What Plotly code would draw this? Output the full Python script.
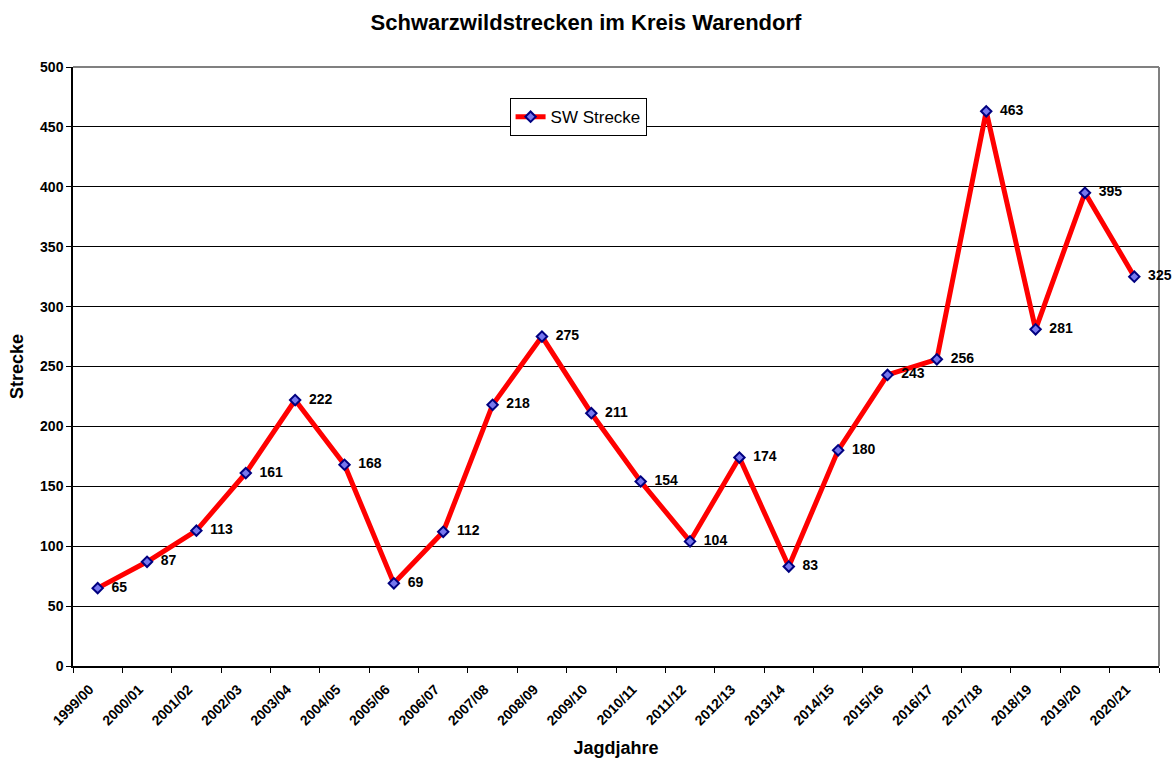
import plotly.graph_objects as go

seasons = ["1999/00", "2000/01", "2001/02", "2002/03", "2003/04", "2004/05", "2005/06",
           "2006/07", "2007/08", "2008/09", "2009/10", "2010/11", "2011/12", "2012/13",
           "2013/14", "2014/15", "2015/16", "2016/17", "2017/18", "2018/19", "2019/20", "2020/21"]
strecke = [65, 87, 113, 161, 222, 168, 69, 112, 218, 275, 211, 154, 104, 174,
           83, 180, 243, 256, 463, 281, 395, 325]

FONT = "Arial, 'Liberation Sans', sans-serif"

fig = go.Figure()
fig.add_trace(go.Scatter(
    x=seasons, y=strecke, name="SW Strecke",
    mode="lines+markers+text",
    line=dict(color="#FF0000", width=5),
    marker=dict(symbol="diamond", size=8, color="#7777EE",
                line=dict(color="#000080", width=2)),
    text=["  " + str(v) for v in strecke],
    textposition="middle right",
    textfont=dict(family=FONT, size=14, color="black", weight="bold"),
    cliponaxis=False,
))

fig.update_layout(
    width=1172, height=760,
    margin=dict(l=73, r=13, t=67, b=94, autoexpand=False),
    paper_bgcolor="white", plot_bgcolor="white",
    font=dict(family=FONT, color="black"),
    title=dict(text="Schwarzwildstrecken im Kreis Warendorf", x=0.5, xanchor="center",
               y=0.971, yanchor="middle",
               font=dict(family=FONT, size=22, color="black", weight="bold")),
    showlegend=True,
    legend=dict(x=0.402, y=0.948, xanchor="left", yanchor="top",
                bgcolor="white", bordercolor="black", borderwidth=1,
                font=dict(family=FONT, size=17, color="black"),
                tracegroupgap=0),
    xaxis=dict(
        type="category", range=[-0.5, 21.5], tickson="boundaries",
        ticks="outside", ticklen=5,
        tickcolor="black", tickwidth=1, tickangle=-45,
        ticklabelstandoff=8, ticklabelshift=-8,
        tickfont=dict(family=FONT, size=14, color="black", weight="bold"),
        showline=True, linecolor="black", linewidth=1.5, mirror=False,
        showgrid=False, zeroline=False, automargin=False,
        title=dict(text="Jagdjahre", standoff=14,
                   font=dict(family=FONT, size=18, color="black", weight="bold")),
    ),
    yaxis=dict(
        range=[0, 500], dtick=50, ticks="outside", ticklen=5,
        tickcolor="black", tickwidth=1,
        tickfont=dict(family=FONT, size=14, color="black", weight="bold"),
        showline=True, linecolor="black", linewidth=1.5,
        showgrid=True, gridcolor="black", gridwidth=1, zeroline=False,
        automargin=False,
        title=dict(text="Strecke", standoff=12,
                   font=dict(family=FONT, size=18, color="black", weight="bold")),
    ),
)

# gray frame on top and right of plot area
fig.add_shape(type="line", xref="paper", yref="paper", x0=0, x1=1, y0=1, y1=1,
              layer="below", line=dict(color="#808080", width=2))
fig.add_shape(type="line", xref="paper", yref="paper", x0=1, x1=1, y0=0, y1=1,
              layer="below", line=dict(color="#808080", width=2))

fig.write_html("out.html", config={"displayModeBar": False},
               post_script="document.body.style.margin='0';")
